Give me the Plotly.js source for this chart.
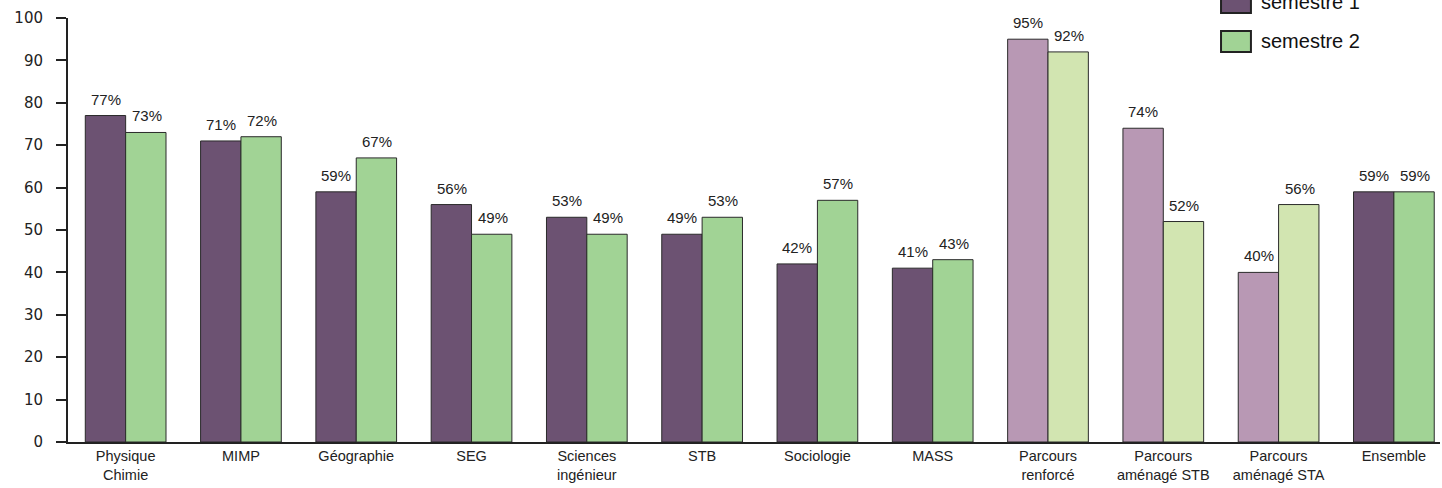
<!DOCTYPE html>
<html><head><meta charset="utf-8">
<script src="https://cdn.plot.ly/plotly-3.0.1.min.js"></script>
<style>body{margin:0;background:#fff}#c{width:1442px;height:488px}</style>
</head><body><div id="c"></div>
<script>
const categories = ["Physique<br>Chimie","MIMP","Géographie","SEG","Sciences<br>ingénieur","STB","Sociologie","MASS","Parcours<br>renforcé","Parcours<br>aménagé STB","Parcours<br>aménagé STA","Ensemble"];
const semestre1 = [77,71,59,56,53,49,42,41,95,74,40,59];
const semestre2 = [73,72,67,49,49,53,57,43,92,52,56,59];
const lightGroup = [false,false,false,false,false,false,false,false,true,true,true,false];
const yTicks = [0,10,20,30,40,50,60,70,80,90,100];

const c1 = lightGroup.map(l => l ? '#B898B4' : '#6C5272');
const c2 = lightGroup.map(l => l ? '#D2E5B1' : '#A1D395');
const lineStyle = {color:'#2a2a2a', width:1};

const traces = [
  {type:'bar', x:categories, y:semestre1, name:'semestre 1', marker:{color:c1, line:lineStyle}, showlegend:false, hoverinfo:'skip'},
  {type:'bar', x:categories, y:semestre2, name:'semestre 2', marker:{color:c2, line:lineStyle}, showlegend:false, hoverinfo:'skip'}
];

const annotations = [];
const lblFont = {family:'Liberation Sans, Arial, sans-serif', size:15, color:'#222'};
categories.forEach((c,i)=>{
  annotations.push({x:c, y:semestre1[i], text:semestre1[i]+'%', showarrow:false, xanchor:'center', yanchor:'bottom', xshift:-20, yshift:6, font:lblFont});
  annotations.push({x:c, y:semestre2[i], text:semestre2[i]+'%', showarrow:false, xanchor:'center', yanchor:'bottom', xshift:21, yshift:6, font:lblFont});
});
// legend
const legendItems = [['semestre 1','#6C5272',1.012],['semestre 2','#A1D395',0.920]];
const shapes = [];
legendItems.forEach(([t,col,y0])=>{
  shapes.push({type:'rect', xref:'paper', yref:'paper', x0:0.8404, x1:0.8622, y0:y0, y1:y0+0.0495, fillcolor:col, line:{color:'#222', width:2}});
  annotations.push({xref:'paper', yref:'paper', x:0.8680, y:y0+0.025, text:t, showarrow:false, xanchor:'left', yanchor:'middle', font:{family:'Liberation Sans, Arial, sans-serif', size:20, color:'#111'}});
});

const layout = {
  width:1442, height:488,
  margin:{l:68, r:2, t:18, b:46},
  paper_bgcolor:'#fff', plot_bgcolor:'#fff',
  barmode:'group', bargap:0.3, bargroupgap:0,
  xaxis:{type:'category', range:[-0.5,11.4], showgrid:false, zeroline:false, showline:true, linecolor:'#222', linewidth:2, ticks:'', tickfont:{family:'Liberation Sans, Arial, sans-serif', size:14.5, color:'#222'}, fixedrange:true},
  yaxis:{range:[0,100], tickvals:yTicks, showgrid:false, zeroline:false, showline:true, linecolor:'#222', linewidth:2, ticks:'outside', ticklen:10, tickwidth:2, tickcolor:'#222', ticklabelstandoff:10, tickfont:{family:'DejaVu Sans, sans-serif', size:15, color:'#222'}},
  annotations:annotations,
  shapes:shapes,
  showlegend:false
};
Plotly.newPlot('c', traces, layout, {staticPlot:true});
</script></body></html>
